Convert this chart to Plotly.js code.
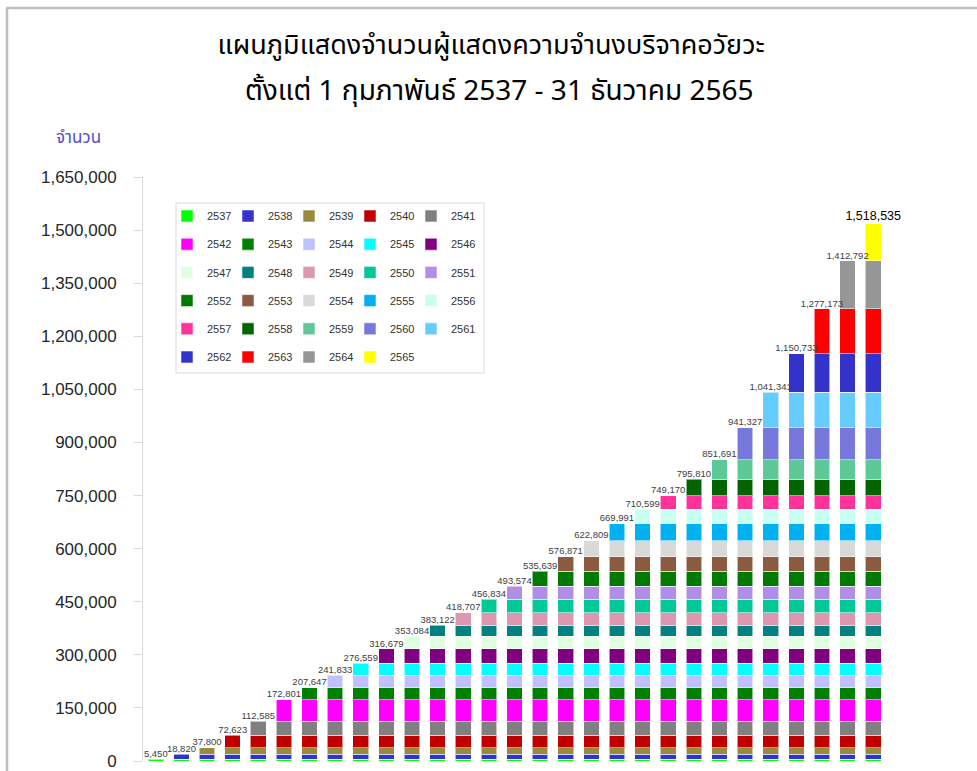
<!DOCTYPE html>
<html>
<head>
<meta charset="utf-8">
<script src="https://cdn.plot.ly/plotly-3.0.1.min.js"></script>
<style>html,body{margin:0;padding:0;background:#fff;}</style>
</head>
<body>
<div id="chart" style="width:977px;height:771px;"></div>
<script>
// ---- data ----
const years = ['2537','2538','2539','2540','2541','2542','2543','2544','2545','2546',
  '2547','2548','2549','2550','2551','2552','2553','2554','2555','2556',
  '2557','2558','2559','2560','2561','2562','2563','2564','2565'];
// cumulative totals printed above each bar
const totals = [5450, 18820, 37800, 72623, 112585, 172801, 207647, 241833, 276559, 316679,
  353084, 383122, 418707, 456834, 493574, 535639, 576871, 622809, 669991, 710599,
  749170, 795810, 851691, 941327, 1041341, 1150733, 1277173, 1412792, 1518535];
// new registrations of each year (one stacked segment per year)
const segments = [5450, 13370, 18980, 34823, 39962, 60216, 34846, 34186, 34726, 40120,
  36405, 30038, 35585, 38127, 36740, 42065, 41232, 45938, 47182, 40608,
  38571, 46640, 55881, 89636, 100014, 109392, 126440, 135619, 105743];
const colors = ['#00ff00','#3333cc','#988b3e','#c00000','#808080','#ff00ff','#008000','#c0c0ff','#00ffff','#800080',
  '#e0ffe0','#008080','#dc98b0','#00c896','#b08ee8','#007a00','#8c5a40','#d9d9d9','#00b0f0','#c8fff0',
  '#ff3399','#006400','#5fc898','#7878dc','#66ccff','#3333cc','#ff0000','#969696','#ffff00'];
const yTicks = [0,150000,300000,450000,600000,750000,900000,1050000,1200000,1350000,1500000,1650000];
const titleLine1 = 'แผนภูมิแสดงจำนวนผู้แสดงความจำนงบริจาคอวัยวะ';
const titleLine2 = 'ตั้งแต่ 1 กุมภาพันธ์ 2537 - 31 ธันวาคม 2565';
const yAxisLabel = 'จำนวน';

// ---- layout helpers ----
const W = 977, H = 771;
const M = {l: 143, r: 91, t: 177, b: 10};
const pw = W - M.l - M.r, ph = H - M.t - M.b;
const px2x = p => (p - M.l) / pw;
const px2y = p => (H - M.b - p) / ph;
const thaiFont = 'Tahoma, "Noto Sans Thai", "Noto Sans", "DejaVu Sans", sans-serif';
const numFont = '"Liberation Sans", Arial, sans-serif';
const legendCols = 5;

const traces = [];
years.forEach((yr, j) => {
  const row = Math.floor(j / legendCols);
  const lastInRow = (j % legendCols === legendCols - 1) || j === years.length - 1;
  const t = {
    type: 'bar',
    name: yr,
    x: years,
    y: years.map((_, i) => (i >= j ? segments[j] : null)),
    marker: {color: colors[j], line: {color: 'rgba(255,255,255,0.55)', width: 1}},
    legend: row === 0 ? 'legend' : 'legend' + (row + 1),
    hovertemplate: yr + ': %{y:,}<extra></extra>'
  };
  if (lastInRow) t.legendwidth = 40;
  traces.push(t);
});
const last = totals.length - 1;
traces.push({
  type: 'scatter',
  mode: 'text',
  x: years,
  y: totals,
  text: totals.map(v => v.toLocaleString('en-US')),
  textposition: 'top center',
  textfont: {
    family: numFont,
    size: totals.map((v, i) => (i === last ? 12.5 : 9.5)),
    color: totals.map((v, i) => (i === last ? '#000000' : '#404040'))
  },
  cliponaxis: false,
  showlegend: false,
  hoverinfo: 'skip'
});

const layout = {
  width: W, height: H,
  margin: M,
  paper_bgcolor: '#ffffff',
  plot_bgcolor: '#ffffff',
  barmode: 'stack',
  bargap: 0.39,
  showlegend: true,
  title: {
    text: titleLine1,
    x: 491 / W, xanchor: 'center',
    y: 1 - 45 / H, yanchor: 'middle',
    font: {family: thaiFont, size: 27, color: '#000000'}
  },
  xaxis: {
    type: 'category',
    range: [-0.5, years.length - 0.5],
    showticklabels: false,
    ticks: '',
    showline: false,
    showgrid: false,
    zeroline: false,
    fixedrange: true
  },
  yaxis: {
    range: [0, 1650000],
    tickvals: yTicks,
    tickformat: ',d',
    ticks: 'outside',
    ticklen: 8,
    tickcolor: '#d9d9d9',
    ticklabelstandoff: 14,
    tickfont: {family: numFont, size: 17, color: '#262626'},
    showline: true,
    linecolor: '#d9d9d9',
    linewidth: 1,
    showgrid: false,
    zeroline: false,
    fixedrange: true
  },
  annotations: [
    {text: titleLine2, xref: 'paper', yref: 'paper', x: px2x(499), y: px2y(92),
     xanchor: 'center', yanchor: 'middle', showarrow: false,
     font: {family: thaiFont, size: 28, color: '#000000'}},
    {text: yAxisLabel, xref: 'paper', yref: 'paper', x: px2x(78), y: px2y(138),
     xanchor: 'center', yanchor: 'middle', showarrow: false,
     font: {family: thaiFont, size: 17, color: '#4f4fd0'}}
  ],
  shapes: [
    // chart frame (top and left edges)
    {type: 'line', xref: 'paper', yref: 'paper', x0: px2x(6), x1: px2x(980), y0: px2y(8), y1: px2y(8),
     line: {color: '#bfbfbf', width: 2.5}},
    {type: 'line', xref: 'paper', yref: 'paper', x0: px2x(7), x1: px2x(7), y0: px2y(8), y1: px2y(780),
     line: {color: '#bfbfbf', width: 2.5}},
    // legend frame
    {type: 'rect', xref: 'paper', yref: 'paper', x0: px2x(176), x1: px2x(484), y0: px2y(203), y1: px2y(373),
     line: {color: '#d9d9d9', width: 1}, fillcolor: '#ffffff', layer: 'above'}
  ]
};

for (let r = 0; r < 6; r++) {
  const key = r === 0 ? 'legend' : 'legend' + (r + 1);
  layout[key] = {
    orientation: 'h',
    x: px2x(167), xanchor: 'left',
    y: px2y(216 + 28.2 * r), yanchor: 'middle',
    entrywidth: 16, entrywidthmode: 'pixels',
    traceorder: 'normal',
    bgcolor: 'rgba(0,0,0,0)',
    borderwidth: 0,
    font: {family: numFont, size: 11, color: '#333333'}
  };
}

Plotly.newPlot('chart', traces, layout, {displayModeBar: false});
</script>
</body>
</html>
